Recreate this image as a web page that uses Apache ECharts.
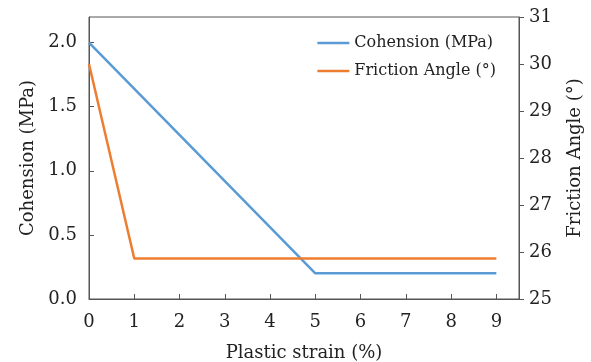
<!DOCTYPE html>
<html>
<head>
<meta charset="utf-8">
<script src="https://cdn.jsdelivr.net/npm/echarts@6/dist/echarts.min.js"></script>
<style>
  html, body { margin: 0; padding: 0; background: #fff; }
  #chart { width: 591px; height: 362px; }
</style>
</head>
<body>
<div id="chart"></div>
<script>
// Softening parameters against plastic strain
const strain = [0, 1, 5, 9];                  // plastic strain (%)
const cohesion = [2.0, null, 0.2, 0.2];       // MPa
const friction = [30.0, 25.86, null, 25.86];  // degrees
const xTicks = [0, 1, 2, 3, 4, 5, 6, 7, 8, 9];
const seriesNames = ['Cohension (MPa)', 'Friction Angle (°)'];

const cohesionPts = strain.map((s, i) => [s, cohesion[i]]).filter(p => p[1] !== null);
const frictionPts = strain.map((s, i) => [s, friction[i]]).filter(p => p[1] !== null);

const FONT = 'DejaVu Serif';
const TXT = '#222';
const AX = '#555';

const chart = echarts.init(document.getElementById('chart'), null, { renderer: 'canvas' });
chart.setOption({
  animation: false,
  backgroundColor: '#fff',
  textStyle: { fontFamily: FONT, color: TXT },
  grid: {
    left: 89, right: 72, top: 17, bottom: 63,
    outerBoundsMode: 'none', containLabel: false,
    show: true, borderColor: AX, borderWidth: 1
  },
  legend: {
    right: 90, top: 30, orient: 'vertical', itemGap: 12,
    itemWidth: 32, itemHeight: 14,
    icon: 'path://M0,5.75 L32,5.75 L32,8.25 L0,8.25 Z',
    textStyle: { fontFamily: FONT, fontSize: 16, color: TXT },
    data: seriesNames
  },
  xAxis: {
    type: 'value', min: 0, max: 9.5, interval: 1,
    name: 'Plastic strain (%)', nameLocation: 'middle', nameGap: 45,
    nameTextStyle: { fontFamily: FONT, fontSize: 18, color: TXT },
    axisLine: { lineStyle: { color: AX } },
    axisTick: { inside: true, length: 5, lineStyle: { color: AX }, customValues: xTicks },
    axisLabel: { fontFamily: FONT, fontSize: 18, color: TXT, margin: 14, customValues: xTicks },
    splitLine: { show: false }
  },
  yAxis: [
    {
      type: 'value', min: 0, max: 2.2, interval: 0.5, position: 'left',
      name: 'Cohension (MPa)', nameLocation: 'middle', nameGap: 52,
      nameTextStyle: { fontFamily: FONT, fontSize: 18, color: TXT },
      axisLine: { show: true, lineStyle: { color: AX } },
      axisTick: { show: true, inside: true, length: 5, lineStyle: { color: AX } },
      axisLabel: { fontFamily: FONT, fontSize: 18, color: TXT, margin: 12, showMaxLabel: false,
                   formatter: v => v.toFixed(1) },
      splitLine: { show: false }
    },
    {
      type: 'value', min: 25, max: 31, interval: 1, position: 'right',
      name: 'Friction Angle (°)', nameLocation: 'middle', nameGap: 47,
      nameTextStyle: { fontFamily: FONT, fontSize: 18, color: TXT },
      axisLine: { show: true, lineStyle: { color: AX } },
      axisTick: { show: true, inside: false, length: 5, lineStyle: { color: AX } },
      axisLabel: { fontFamily: FONT, fontSize: 18, color: TXT, margin: 10 },
      splitLine: { show: false }
    }
  ],
  series: [
    {
      name: seriesNames[0], type: 'line', yAxisIndex: 0, data: cohesionPts,
      showSymbol: false, lineStyle: { width: 2.5, color: '#5b9bd5' }, itemStyle: { color: '#5b9bd5' }
    },
    {
      name: seriesNames[1], type: 'line', yAxisIndex: 1, data: frictionPts,
      showSymbol: false, lineStyle: { width: 2.5, color: '#ed7d31' }, itemStyle: { color: '#ed7d31' }
    }
  ]
});
</script>
</body>
</html>
